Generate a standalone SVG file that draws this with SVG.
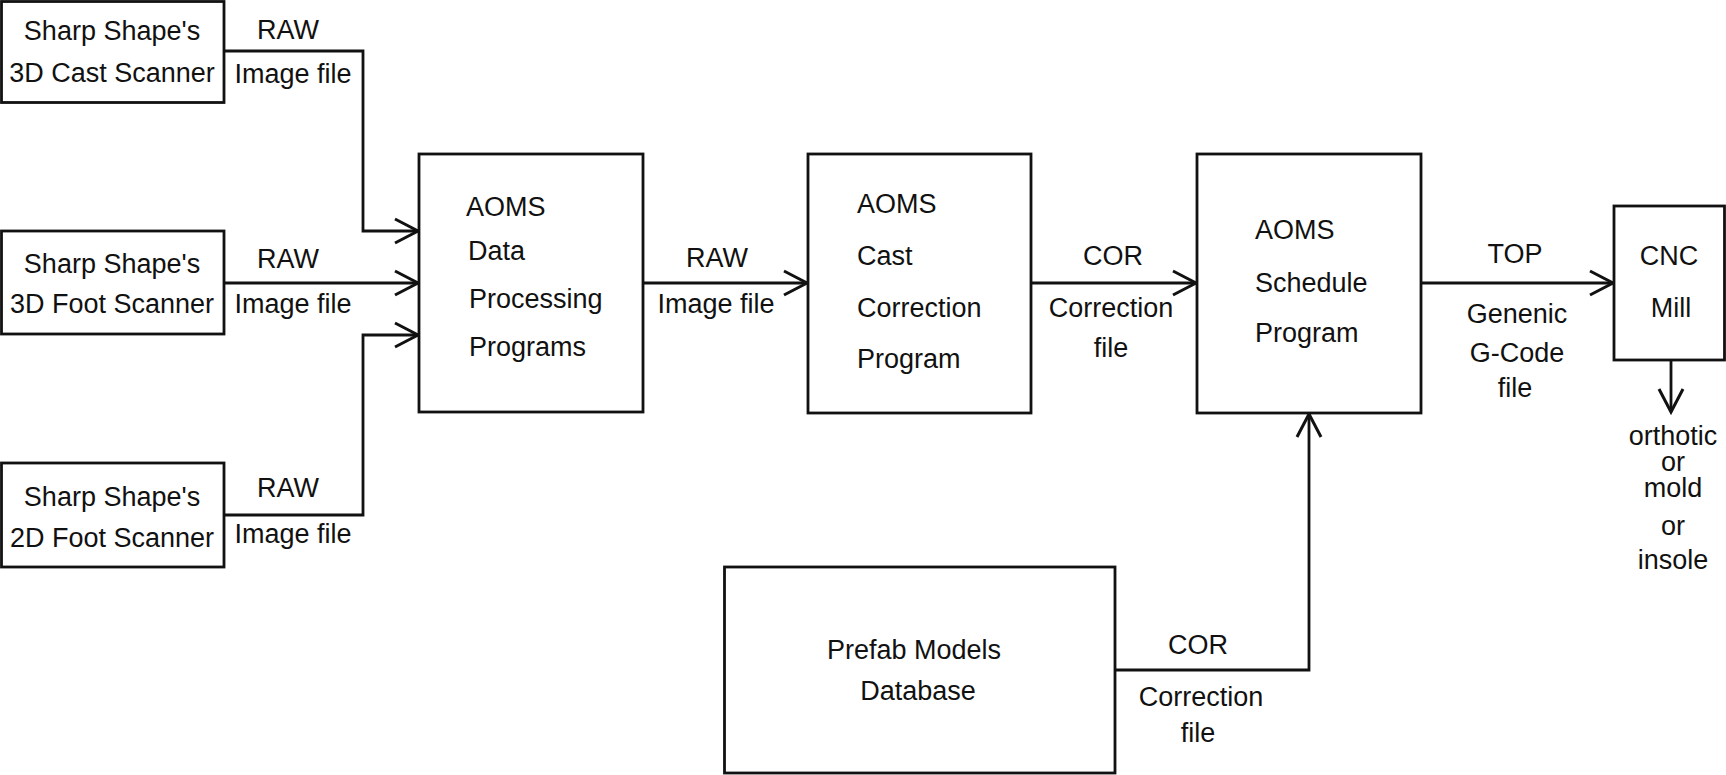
<svg xmlns="http://www.w3.org/2000/svg" width="1726" height="775" viewBox="0 0 1726 775">
<style>
.box{fill:#fff;stroke:#111;stroke-width:2.8}
.t{font-family:"Liberation Sans",Arial,sans-serif;font-size:27px;fill:#111}
.m{text-anchor:middle}
.c{fill:none;stroke:#111;stroke-width:2.8}
</style>
<defs>
<marker id="arr" markerUnits="userSpaceOnUse" markerWidth="30" markerHeight="30" viewBox="-26 -15 30 30" refX="0" refY="0" orient="auto">
<path d="M-23,-12 L0,0 L-23,12" fill="none" stroke="#111" stroke-width="3"/>
</marker>
</defs>
<rect width="1726" height="775" fill="#fff"/>
<g id="connectors">
<path class="c" d="M224,51 H363 V231 H418" marker-end="url(#arr)"/>
<path class="c" d="M224,283 H418" marker-end="url(#arr)"/>
<path class="c" d="M224,515 H363 V335 H418" marker-end="url(#arr)"/>
<path class="c" d="M643,283 H807" marker-end="url(#arr)"/>
<path class="c" d="M1031,283 H1196" marker-end="url(#arr)"/>
<path class="c" d="M1421,283 H1613" marker-end="url(#arr)"/>
<path class="c" d="M1115,670 H1309 V414" marker-end="url(#arr)"/>
<path class="c" d="M1671,360 V412" marker-end="url(#arr)"/>
<text class="t m" x="288" y="39">RAW</text>
<text class="t m" x="293" y="83">Image file</text>
<text class="t m" x="288" y="268">RAW</text>
<text class="t m" x="293" y="313">Image file</text>
<text class="t m" x="288" y="497">RAW</text>
<text class="t m" x="293" y="543">Image file</text>
<text class="t m" x="717" y="267">RAW</text>
<text class="t m" x="716" y="313">Image file</text>
<text class="t m" x="1113" y="265">COR</text>
<text class="t m" x="1111" y="317">Correction</text>
<text class="t m" x="1111" y="357">file</text>
<text class="t m" x="1515" y="263">TOP</text>
<text class="t m" x="1517" y="323">Genenic</text>
<text class="t m" x="1517" y="362">G-Code</text>
<text class="t m" x="1515" y="397">file</text>
<text class="t m" x="1198" y="654">COR</text>
<text class="t m" x="1201" y="706">Correction</text>
<text class="t m" x="1198" y="742">file</text>
<text class="t m" x="1673" y="445">orthotic</text>
<text class="t m" x="1673" y="471">or</text>
<text class="t m" x="1673" y="497">mold</text>
<text class="t m" x="1673" y="535">or</text>
<text class="t m" x="1673" y="569">insole</text>
</g>
<g id="scanner-3d-cast">
<rect class="box" x="1.5" y="1.5" width="222.5" height="101"/>
<text class="t m" x="112" y="40">Sharp Shape's</text>
<text class="t m" x="112" y="82">3D Cast Scanner</text>
</g>
<g id="scanner-3d-foot">
<rect class="box" x="1.5" y="231" width="222.5" height="103"/>
<text class="t m" x="112" y="273">Sharp Shape's</text>
<text class="t m" x="112" y="313">3D Foot Scanner</text>
</g>
<g id="scanner-2d-foot">
<rect class="box" x="1.5" y="463" width="222.5" height="104"/>
<text class="t m" x="112" y="506">Sharp Shape's</text>
<text class="t m" x="112" y="547">2D Foot Scanner</text>
</g>
<g id="data-processing">
<rect class="box" x="419" y="154" width="224" height="258"/>
<text class="t" x="466" y="216">AOMS</text>
<text class="t" x="468" y="260">Data</text>
<text class="t" x="469" y="308">Processing</text>
<text class="t" x="469" y="356">Programs</text>
</g>
<g id="cast-correction">
<rect class="box" x="808" y="154" width="223" height="259"/>
<text class="t" x="857" y="213">AOMS</text>
<text class="t" x="857" y="265">Cast</text>
<text class="t" x="857" y="317">Correction</text>
<text class="t" x="857" y="368">Program</text>
</g>
<g id="schedule">
<rect class="box" x="1197" y="154" width="224" height="259"/>
<text class="t" x="1255" y="239">AOMS</text>
<text class="t" x="1255" y="292">Schedule</text>
<text class="t" x="1255" y="342">Program</text>
</g>
<g id="cnc-mill">
<rect class="box" x="1614" y="206" width="110.5" height="154"/>
<text class="t m" x="1669" y="265">CNC</text>
<text class="t m" x="1671" y="317">Mill</text>
</g>
<g id="prefab">
<rect class="box" x="724.5" y="567" width="390.5" height="206"/>
<text class="t m" x="914" y="659">Prefab Models</text>
<text class="t m" x="918" y="700">Database</text>
</g>
</svg>
